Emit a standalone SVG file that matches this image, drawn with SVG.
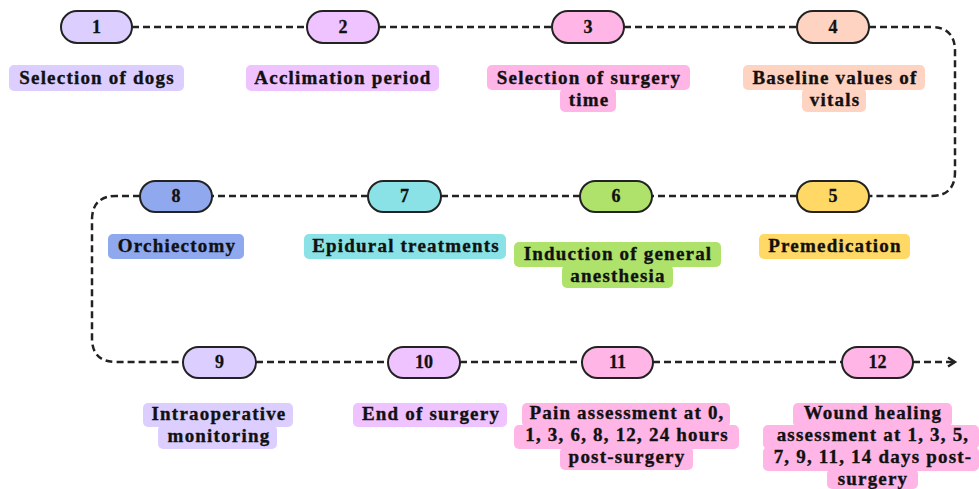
<svg xmlns="http://www.w3.org/2000/svg" width="979" height="489" viewBox="0 0 979 489">
<defs>
<marker id="arr" markerWidth="12" markerHeight="12" refX="9" refY="6" orient="auto" markerUnits="userSpaceOnUse">
<path d="M2,1.5 L9,6 L2,10.5" fill="none" stroke="#222" stroke-width="2.4"/>
</marker>
</defs>
<style>
.c{fill:none;stroke:#222;stroke-width:2.5;stroke-dasharray:7 4}
.p{stroke:#222;stroke-width:2}
.t{font-family:"Liberation Serif","Times New Roman",serif;font-weight:bold;font-size:19px;letter-spacing:1.2px;fill:#111;stroke:#111;stroke-width:0.35;text-anchor:middle}
.n{font-family:"Liberation Serif","Times New Roman",serif;font-weight:bold;font-size:18px;fill:#111;stroke:#111;stroke-width:0.3;text-anchor:middle}
.c1{fill:#dccfff}.c2{fill:#efc3ff}.c3{fill:#ffb5e6}.c4{fill:#ffd3c2}.c5{fill:#ffd866}.c6{fill:#aee26a}.c7{fill:#8ae2e6}.c8{fill:#8fa8ee}
</style>
<rect width="979" height="489" fill="#fff"/>
<g id="connectors">
<path class="c" d="M132,27 H306"/>
<path class="c" d="M379,27 H552"/>
<path class="c" d="M624,27 H797"/>
<path class="c" d="M869,27 H931 Q955,27 955,51 V172 Q955,196 931,196 H869"/>
<path class="c" d="M797,196 H652"/>
<path class="c" d="M580,196 H441"/>
<path class="c" d="M368,196 H212"/>
<path class="c" d="M140,196 H116 Q92,196 92,220 V338 Q92,362 116,362 H183"/>
<path class="c" d="M256,362 H388"/>
<path class="c" d="M460,362 H582"/>
<path class="c" d="M653,362 H842"/>
<path class="c" d="M913,362 H955" marker-end="url(#arr)"/>
</g>
<g id="node1">
<rect class="p c1" x="61" y="11" width="71" height="32" rx="16"/>
<text class="n" x="96.5" y="33">1</text>
<rect class="c1" x="9" y="65" width="175" height="26" rx="5"/>
<text class="t" x="97" y="84">Selection of dogs</text>
</g>
<g id="node2">
<rect class="p c2" x="307" y="11" width="72" height="32" rx="16"/>
<text class="n" x="343" y="33">2</text>
<rect class="c2" x="246" y="65" width="193" height="26" rx="5"/>
<text class="t" x="343" y="84">Acclimation period</text>
</g>
<g id="node3">
<rect class="p c3" x="552" y="11" width="72" height="32" rx="16"/>
<text class="n" x="588" y="33">3</text>
<rect class="c3" x="487" y="65" width="203" height="25" rx="5"/>
<rect class="c3" x="560" y="88" width="56" height="24" rx="5"/>
<text class="t" x="589" y="84">Selection of surgery</text>
<text class="t" x="589" y="106">time</text>
</g>
<g id="node4">
<rect class="p c4" x="797" y="11" width="72" height="32" rx="16"/>
<text class="n" x="833" y="33">4</text>
<rect class="c4" x="743" y="65" width="182" height="25" rx="5"/>
<rect class="c4" x="802" y="88" width="64" height="24" rx="5"/>
<text class="t" x="835" y="84">Baseline values of</text>
<text class="t" x="835" y="106">vitals</text>
</g>
<g id="node5">
<rect class="p c5" x="797" y="181" width="72" height="31" rx="15.5"/>
<text class="n" x="833" y="202">5</text>
<rect class="c5" x="759" y="234" width="151" height="25" rx="5"/>
<text class="t" x="835" y="252">Premedication</text>
</g>
<g id="node6">
<rect class="p c6" x="580" y="181" width="72" height="31" rx="15.5"/>
<text class="n" x="616" y="202">6</text>
<rect class="c6" x="514" y="242" width="207" height="25" rx="5"/>
<rect class="c6" x="562" y="265" width="111" height="23" rx="5"/>
<text class="t" x="618" y="260">Induction of general</text>
<text class="t" x="618" y="282">anesthesia</text>
</g>
<g id="node7">
<rect class="p c7" x="368" y="181" width="73" height="31" rx="15.5"/>
<text class="n" x="404.5" y="202">7</text>
<rect class="c7" x="304" y="234" width="202" height="25" rx="5"/>
<text class="t" x="406" y="252">Epidural treatments</text>
</g>
<g id="node8">
<rect class="p c8" x="140" y="181" width="72" height="31" rx="15.5"/>
<text class="n" x="176" y="202">8</text>
<rect class="c8" x="108" y="234" width="136" height="25" rx="5"/>
<text class="t" x="177" y="252">Orchiectomy</text>
</g>
<g id="node9">
<rect class="p c1" x="183" y="347" width="73" height="31" rx="15.5"/>
<text class="n" x="219.5" y="368">9</text>
<rect class="c1" x="143" y="403" width="150" height="24" rx="5"/>
<rect class="c1" x="158" y="425" width="119" height="24" rx="5"/>
<text class="t" x="219" y="420">Intraoperative</text>
<text class="t" x="219" y="442">monitoring</text>
</g>
<g id="node10">
<rect class="p c2" x="388" y="347" width="72" height="31" rx="15.5"/>
<text class="n" x="424" y="368">10</text>
<rect class="c2" x="353" y="403" width="154" height="24" rx="5"/>
<text class="t" x="431" y="420">End of surgery</text>
</g>
<g id="node11">
<rect class="p c3" x="582" y="347" width="71" height="31" rx="15.5"/>
<text class="n" x="617.5" y="368">11</text>
<rect class="c3" x="522" y="403" width="208" height="24" rx="5"/>
<rect class="c3" x="514" y="425" width="225" height="24" rx="5"/>
<rect class="c3" x="560" y="447" width="133" height="23" rx="5"/>
<text class="t" x="627" y="419">Pain assessment at 0,</text>
<text class="t" x="627" y="441">1, 3, 6, 8, 12, 24 hours</text>
<text class="t" x="627" y="463">post-surgery</text>
</g>
<g id="node12">
<rect class="p c3" x="842" y="347" width="71" height="31" rx="15.5"/>
<text class="n" x="877.5" y="368">12</text>
<rect class="c3" x="793" y="403" width="159" height="24" rx="5"/>
<rect class="c3" x="763" y="425" width="216" height="24" rx="5"/>
<rect class="c3" x="763" y="447" width="216" height="24" rx="5"/>
<rect class="c3" x="827" y="469" width="91" height="20" rx="5"/>
<text class="t" x="873" y="419">Wound healing</text>
<text class="t" x="873" y="441">assessment at 1, 3, 5,</text>
<text class="t" x="873" y="463">7, 9, 11, 14 days post-</text>
<text class="t" x="873" y="485">surgery</text>
</g>
</svg>
